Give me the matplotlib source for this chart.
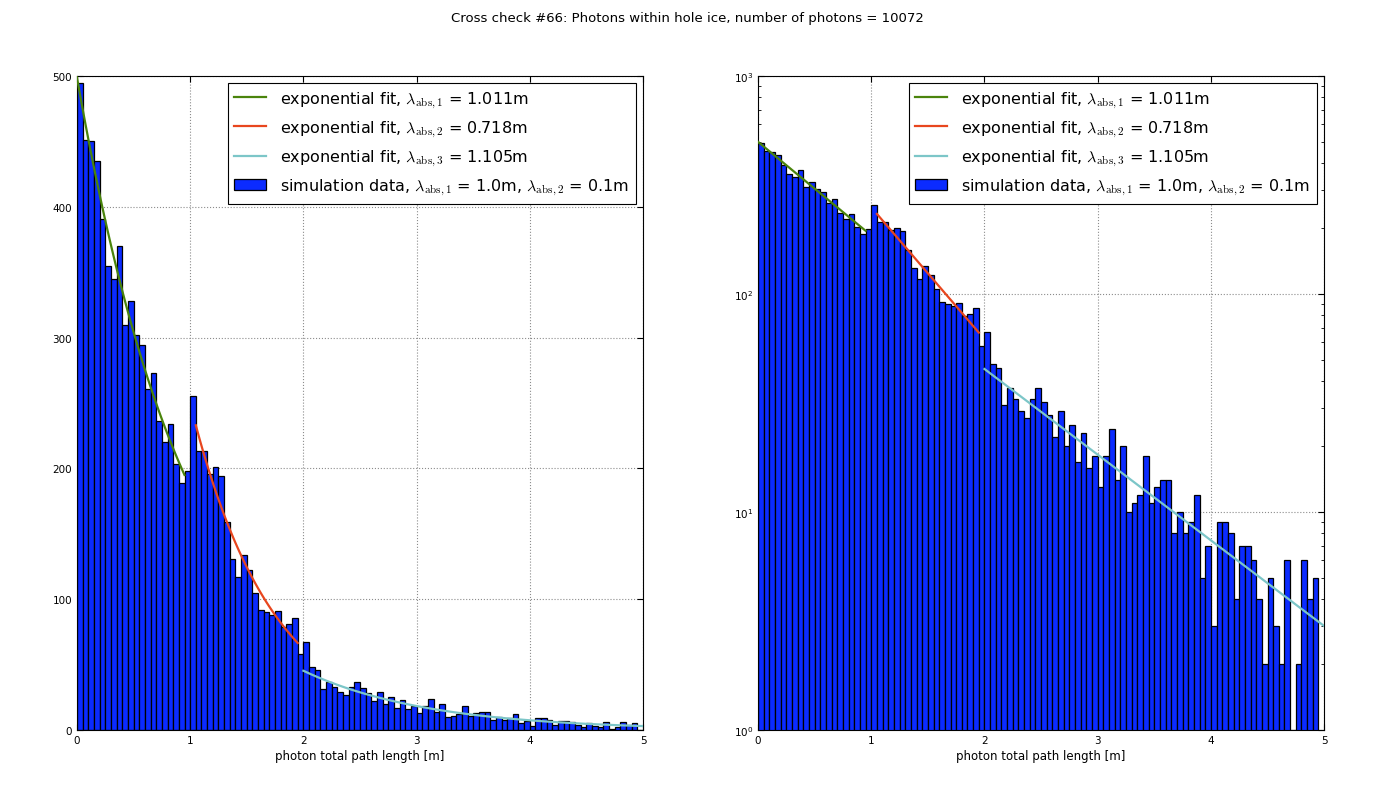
import numpy as np
import matplotlib
matplotlib.use('Agg')
from matplotlib import pyplot as plt

plt.rcParams['font.family'] = ['DejaVu Sans']
plt.rcParams['mathtext.fontset'] = 'cm'

# histogram of photon path lengths, 100 bins from 0 to 5 m
bin_width = 0.05
counts = [495, 451, 450, 435, 391, 355, 345, 370, 310, 328,
          302, 294, 261, 273, 236, 220, 234, 203, 189, 198,
          255, 213, 213, 196, 201, 194, 159, 131, 117, 134,
          122, 105, 92, 90, 88, 91, 79, 81, 86, 58,
          67, 48, 46, 31, 37, 33, 29, 27, 33, 37,
          32, 28, 22, 29, 20, 25, 17, 23, 16, 18,
          13, 18, 24, 14, 20, 10, 11, 12, 18, 11,
          13, 14, 14, 8, 10, 8, 9, 12, 5, 7,
          3, 9, 9, 8, 4, 7, 7, 6, 4, 2,
          5, 3, 2, 6, 1, 2, 6, 4, 5, 0]
edges = np.arange(len(counts)) * bin_width

# exponential fits: (start x, end x, value at start, lambda)
fit_ranges = [(0.0, 0.95, 499.0, 1.011),
              (1.05, 1.95, 233.0, 0.718),
              (2.0, 5.0, 45.3, 1.105)]
fit_colors = ['#4a840c', '#e8461e', '#7cc6c8']
fit_labels = [r'exponential fit, $\lambda_{\rm abs,1}$ = 1.011m',
              r'exponential fit, $\lambda_{\rm abs,2}$ = 0.718m',
              r'exponential fit, $\lambda_{\rm abs,3}$ = 1.105m']
data_label = r'simulation data, $\lambda_{\rm abs,1}$ = 1.0m, $\lambda_{\rm abs,2}$ = 0.1m'

fig = plt.figure(figsize=(13.74, 8.04), dpi=100)
fig.suptitle('Cross check #66: Photons within hole ice, number of photons = 10072',
             fontsize=9.5, y=0.985)

ax1 = fig.add_axes([0.056, 0.0908, 0.412, 0.8134])
ax2 = fig.add_axes([0.5517, 0.0908, 0.412, 0.8134])

for ax, logy in [(ax1, False), (ax2, True)]:
    ax.bar(edges, counts, width=bin_width, align='edge', color='#0b2bff',
           edgecolor='black', linewidth=0.9, label=data_label, zorder=2)
    for (x0, x1, y0, lam), c, lab in zip(fit_ranges, fit_colors, fit_labels):
        xs = np.linspace(x0, x1, 50)
        ax.plot(xs, y0 * np.exp(-(xs - x0) / lam), color=c, lw=1.6, label=lab, zorder=3)
    if logy:
        ax.set_yscale('log')
        ax.set_ylim(1, 1000)
    else:
        ax.set_ylim(0, 500)
    ax.set_xlim(0, 5)
    ax.set_xlabel('photon total path length [m]', fontsize=8.5, labelpad=3)
    ax.grid(True, linestyle=':', color='0.55', linewidth=0.8, zorder=0)
    ax.set_axisbelow(True)
    ax.tick_params(direction='in', which='both', top=True, right=True, labelsize=7.5)
    ax.tick_params(which='major', length=4)
    ax.tick_params(which='minor', length=2)
    leg = ax.legend(loc='upper right', fontsize=11.5, fancybox=False,
                    framealpha=1, edgecolor='black', handlelength=2.0,
                    handletextpad=0.9, labelspacing=0.55, borderaxespad=0.45)
    leg.get_frame().set_linewidth(0.8)

fig.savefig('out.png', dpi=100)
